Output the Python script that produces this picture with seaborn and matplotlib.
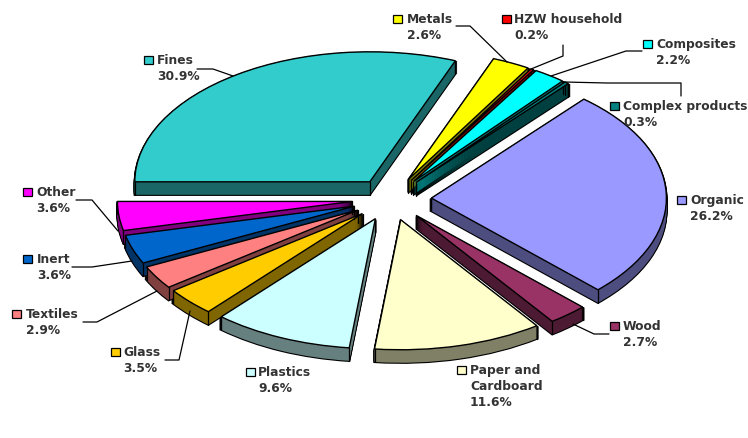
#!/usr/bin/env python3

import matplotlib
matplotlib.use('Agg')
import matplotlib.pyplot as plt
from matplotlib.lines import Line2D
from matplotlib.patches import Rectangle
import numpy as np
import seaborn as sns

categories = ['Fines', 'Metals', 'HZW household', 'Composites', 'Complex products',
              'Organic', 'Wood', 'Paper and\nCardboard', 'Plastics', 'Glass',
              'Textiles', 'Inert', 'Other']
shares = [30.9, 2.6, 0.2, 2.2, 0.3, 26.2, 2.7, 11.6, 9.6, 3.5, 2.9, 3.6, 3.6]
slice_colors = ['#33CCCC', '#FFFF00', '#FF0000', '#00FFFF', '#008080',
                '#9999FF', '#993366', '#FFFFCC', '#CCFFFF', '#FFCC00',
                '#FF8080', '#0066CC', '#FF00FF']

# label anchors in picture pixels: key left, text left, first line y
label_spots = [(144, 157, 60), (393, 407, 19), (502, 514, 19), (643, 656, 44),
               (610, 623, 106), (677, 690, 200), (610, 623, 326), (457, 470, 370),
               (246, 258, 372), (111, 123, 352), (12, 26, 314), (23, 37, 259),
               (23, 36, 192)]

leaders = [
    [(197, 70), (213, 70), (233, 77)],
    [(456, 27), (470, 27), (507, 63)],
    [(563, 46), (563, 57), (531, 70)],
    [(642, 52), (626, 52), (551, 77)],
    [(681, 97), (681, 84), (607, 84), (564, 83)],
    [(609, 335), (594, 335), (573, 325)],
    [(165, 361), (179, 361), (190, 312)],
    [(83, 323), (97, 323), (157, 292)],
    [(72, 268), (92, 268), (132, 262)],
    [(76, 201), (92, 201), (118, 232)],
]

W, H = 748, 439
CX, CY = 391, 200    # pie centre in pixels
RX, RY = 235, 130    # pie radius in pixels, flattened
DEPTH = 13           # thickness in pixels

sns.set_theme(style='white')
plt.rcParams['font.family'] = ['DejaVu Sans']

palette = sns.color_palette(slice_colors)
side_colors = [tuple(c * 0.5 for c in col) for col in palette]
explode = [0.16, 0.165, 0.165, 0.165, 0.165, 0.172, 0.165, 0.165,
           0.165, 0.165, 0.165, 0.165, 0.165]

fig = plt.figure(figsize=(W / 100, H / 100), dpi=100)
ax = fig.add_axes([0, 0, 1, 1])


def draw_pie(colors, drop=0, **wedge):
    patches, _ = ax.pie(shares, colors=colors, explode=explode, startangle=180,
                        counterclock=False, center=(0, -drop / RY), radius=1,
                        wedgeprops=wedge)
    return patches


# thickness: black silhouette first, then the side colour on top of it
for d in range(DEPTH, 0, -1):
    draw_pie(['black'] * len(shares), d, edgecolor='black', linewidth=1.6)
for d in range(DEPTH, 0, -1):
    draw_pie(side_colors, d, edgecolor='none', linewidth=0)

tops = draw_pie(palette, 0, edgecolor='black', linewidth=1.0)

# corner edges of each slice, taken from the wedges themselves; tops hide what is behind them
for w in tops:
    w.set_zorder(3)
    x0, y0 = w.center
    for t in (w.theta1, w.theta2):
        xe = x0 + w.r * np.cos(np.radians(t))
        ye = y0 + w.r * np.sin(np.radians(t))
        ax.plot([xe, xe], [ye, ye - DEPTH / RY], color='black', lw=0.9, zorder=2)
    ax.plot([x0, x0], [y0, y0 - DEPTH / RY], color='black', lw=0.9, zorder=2)

ax.set_aspect('auto')
ax.set_xlim(-CX / RX, (W - CX) / RX)
ax.set_ylim((CY - H) / RY, CY / RY)
ax.axis('off')


def fx(px):
    return px / W


def fy(py):
    return 1 - py / H


for pts in leaders:
    fig.add_artist(Line2D([fx(p[0]) for p in pts], [fy(p[1]) for p in pts],
                          color='black', lw=0.9, zorder=5))

for name, share, col, (kx, tx, ty) in zip(categories, shares, palette, label_spots):
    fig.add_artist(Rectangle((fx(kx), fy(ty + 5)), 9 / W, 8 / H, facecolor=col,
                             edgecolor='black', lw=0.9, zorder=6,
                             transform=fig.transFigure))
    fig.text(fx(tx), fy(ty - 6), f'{name}\n{share}%', fontsize=8.8, fontweight='bold',
             color='#333333', va='top', ha='left', linespacing=1.32, zorder=7)

fig.savefig('out.png', dpi=100)
plt.close()
